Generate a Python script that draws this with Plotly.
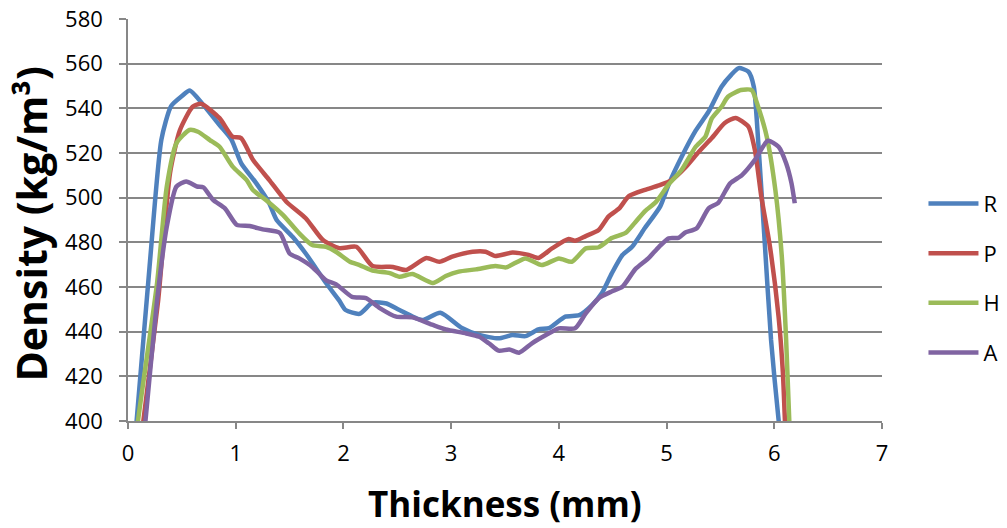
import plotly.graph_objects as go

# Series R
r_x = [0.05, 0.08, 0.2, 0.31, 0.40, 0.50, 0.574, 0.70, 0.85, 0.96, 1.05, 1.19, 1.31, 1.38, 1.53, 1.65, 1.84, 1.96, 2.02, 2.15, 2.27, 2.40, 2.52, 2.73, 2.90, 3.10, 3.26, 3.44, 3.57, 3.69, 3.81, 3.91, 4.06, 4.19, 4.31, 4.40, 4.49, 4.59, 4.68, 4.80, 4.94, 5.02, 5.14, 5.27, 5.39, 5.51, 5.60, 5.67, 5.76, 5.81, 5.85, 5.91, 5.97, 6.04, 6.07]
r_y = [383, 400, 469, 526, 541, 545.5, 548, 541.5, 532.5, 526, 515.5, 506.5, 497.6, 490, 482.4, 475, 461.7, 454, 449.7, 448, 453, 452.6, 449.7, 445.2, 448.5, 441.6, 438.5, 437, 438.5, 438, 441, 441.6, 446.7, 447.4, 452, 457.3, 466, 474.3, 478, 486.5, 496, 506, 518.3, 530, 538.5, 549.7, 555, 558, 556.4, 549.7, 525.8, 481, 436.3, 400.5, 390]

# Series P
p_x = [0.12, 0.14, 0.28, 0.39, 0.48, 0.60, 0.68, 0.85, 0.97, 1.05, 1.16, 1.31, 1.47, 1.65, 1.81, 1.96, 2.12, 2.27, 2.46, 2.58, 2.77, 2.89, 3.01, 3.20, 3.32, 3.41, 3.57, 3.72, 3.81, 3.94, 4.09, 4.15, 4.25, 4.37, 4.46, 4.56, 4.65, 4.80, 4.93, 5.05, 5.17, 5.30, 5.42, 5.54, 5.64, 5.76, 5.82, 5.88, 5.96, 6.04, 6.08, 6.10, 6.11]
p_y = [388, 399, 454, 511, 530, 540.7, 542, 535.6, 527.3, 526.7, 517, 508, 498.2, 490.8, 481, 477.4, 478, 469.4, 469, 467.6, 473, 471.3, 473.6, 475.8, 475.8, 473.9, 475.4, 474.3, 473, 477.4, 481.5, 480.7, 482.8, 485.5, 491.5, 495.2, 500.7, 503.5, 505.5, 508, 513.3, 520.6, 526.7, 533.4, 535.7, 531.8, 521.3, 500.4, 478, 446.7, 421.5, 399, 392]

# Series H
h_x = [0.07, 0.09, 0.27, 0.36, 0.45, 0.57, 0.65, 0.76, 0.85, 0.97, 1.10, 1.16, 1.28, 1.44, 1.59, 1.71, 1.84, 1.93, 2.06, 2.15, 2.27, 2.43, 2.52, 2.64, 2.83, 2.95, 3.07, 3.23, 3.41, 3.51, 3.69, 3.84, 4.00, 4.12, 4.25, 4.37, 4.49, 4.62, 4.71, 4.80, 4.90, 5.02, 5.14, 5.27, 5.36, 5.42, 5.51, 5.57, 5.69, 5.79, 5.85, 5.93, 6.01, 6.07, 6.11, 6.14, 6.15]
h_y = [388, 399, 461.8, 505, 524.4, 530.3, 529.5, 525.8, 522.8, 514, 508, 503.4, 499, 492.2, 484, 478.8, 478, 475.8, 471.3, 469.8, 467.3, 466.2, 464.6, 465.8, 461.8, 464.9, 466.9, 467.9, 469.4, 468.8, 472.8, 469.8, 472.8, 471.3, 477.3, 477.8, 481.9, 484.2, 489, 494, 498, 506, 512.5, 522.8, 527.3, 535.5, 540.7, 545.2, 548.2, 548.2, 540.7, 527.3, 503.4, 473.5, 436.3, 399, 390]

# Series A
a_x = [0.14, 0.16, 0.27, 0.36, 0.45, 0.54, 0.64, 0.70, 0.79, 0.90, 1.01, 1.13, 1.25, 1.41, 1.50, 1.59, 1.71, 1.84, 1.93, 2.08, 2.21, 2.33, 2.49, 2.64, 2.83, 2.95, 3.14, 3.26, 3.35, 3.44, 3.54, 3.63, 3.75, 3.88, 4.00, 4.15, 4.25, 4.37, 4.49, 4.59, 4.71, 4.83, 4.93, 5.02, 5.11, 5.17, 5.28, 5.39, 5.48, 5.59, 5.70, 5.82, 5.94, 6.04, 6.11, 6.16, 6.19]
a_y = [390, 399, 454, 487, 505, 507.2, 505, 504.6, 499, 495.2, 487.8, 487.3, 485.8, 484.2, 475, 472.8, 469, 463, 461.3, 455.6, 455, 450.8, 446.7, 446.4, 443, 441, 439.2, 437.7, 434.8, 431.5, 432, 430.6, 434.8, 438.5, 441.5, 441.5, 448.2, 455, 458, 460.1, 468, 472.8, 478, 481.8, 482, 484.3, 486.3, 495.2, 497.7, 506.4, 510.1, 516.9, 525.5, 522.8, 515.4, 506.4, 497.5]

names = ["R", "P", "H", "A"]
colors = ["#4F81BD", "#C0504D", "#9BBB59", "#8064A2"]
series = [(r_x, r_y), (p_x, p_y), (h_x, h_y), (a_x, a_y)]

x_ticks = [0, 1, 2, 3, 4, 5, 6, 7]
y_ticks = [400, 420, 440, 460, 480, 500, 520, 540, 560, 580]
x_title = "Thickness (mm)"
y_title = "Density (kg/m³)"

FONT = "'Open Sans', sans-serif"

fig = go.Figure()
for name, color, (xs, ys) in zip(names, colors, series):
    fig.add_trace(go.Scatter(
        x=xs, y=ys, mode="lines", name=name, legendgroup=name,
        line=dict(color=color, width=4.5, shape="spline", smoothing=0.6),
    ))

fig.update_layout(
    width=1007, height=528,
    margin=dict(l=120, r=133, t=11, b=115, autoexpand=False),
    paper_bgcolor="white", plot_bgcolor="white",
    font=dict(family=FONT, size=22, color="#000000"),
    showlegend=True,
    legend=dict(x=1.055, y=0.355, xanchor="left", yanchor="middle",
                font=dict(size=22), tracegroupgap=18, itemwidth=50,
                bgcolor="rgba(0,0,0,0)"),
    xaxis=dict(
        range=[0, 7], tickvals=x_ticks, showgrid=False, automargin=False,
        showline=True, linecolor="#878787", linewidth=1.5,
        ticks="outside", ticklen=6, tickcolor="#878787", tickwidth=1.5,
        zeroline=False, tickfont=dict(size=22), ticklabelstandoff=6,
        ticklabeloverflow="allow",
    ),
    yaxis=dict(
        range=[400, 580], tickvals=y_ticks, showgrid=True, automargin=False,
        gridcolor="#878787", gridwidth=1.5,
        showline=True, linecolor="#878787", linewidth=1.5,
        ticks="outside", ticklen=7, tickcolor="#878787", tickwidth=1.5,
        zeroline=False, tickfont=dict(size=22), ticklabelstandoff=12,
        ticklabeloverflow="allow",
    ),
    annotations=[
        dict(text="<b>" + x_title + "</b>", xref="paper", yref="paper",
             x=0.5, y=-0.204, xanchor="center", yanchor="middle",
             showarrow=False, font=dict(size=35, family=FONT)),
        dict(text="<b>" + y_title + "</b>", xref="paper", yref="paper",
             x=-0.128, y=0.49, xanchor="center", yanchor="middle", textangle=-90,
             showarrow=False, font=dict(size=41, family=FONT)),
    ],
)

fig.write_html("out.html")
